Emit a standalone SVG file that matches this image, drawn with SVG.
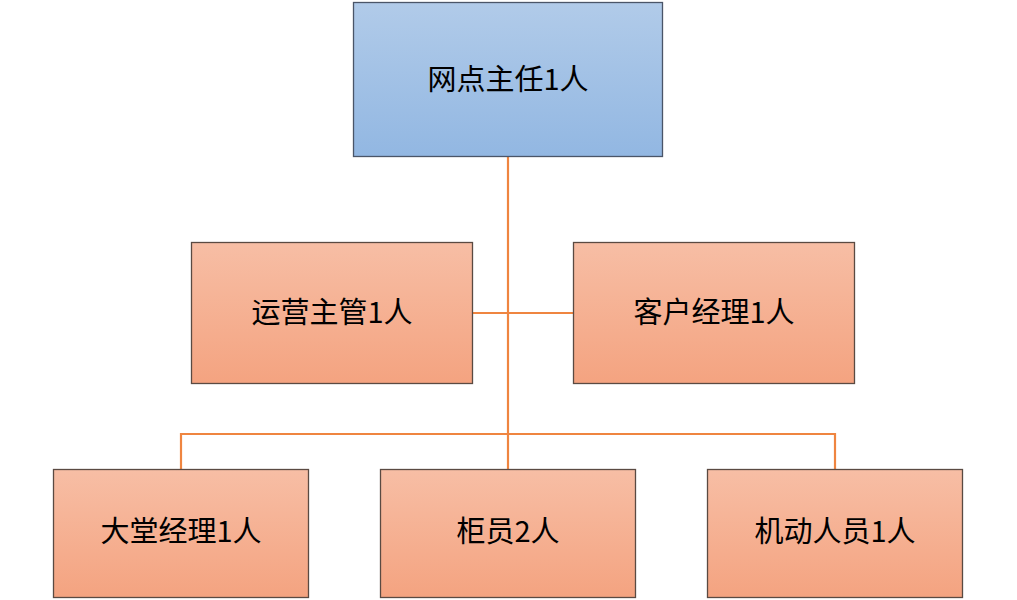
<svg xmlns="http://www.w3.org/2000/svg" width="1017" height="600" viewBox="0 0 1017 600">
<defs>
<linearGradient id="gb" x1="0" y1="0" x2="0" y2="1"><stop offset="0" stop-color="#b1cbe9"/><stop offset="1" stop-color="#92b7e2"/></linearGradient>
<linearGradient id="go" x1="0" y1="0" x2="0" y2="1"><stop offset="0" stop-color="#f7bea5"/><stop offset="1" stop-color="#f4a380"/></linearGradient>
<style>
.box{stroke:#5a4a42;stroke-width:1.3}
.blue{fill:url(#gb);stroke:#4a5568}
.orange{fill:url(#go)}
.t{font-family:"Noto Sans CJK SC","Microsoft YaHei",sans-serif;font-size:29px;fill:#000;text-anchor:middle;dominant-baseline:central}
.c{stroke:#ef8540;stroke-width:2.2;fill:none}
</style>
</defs>
<g id="connectors">
<path class="c" d="M508 156V469"/>
<path class="c" d="M472 313H573"/>
<path class="c" d="M181 469V434H835V469"/>
</g>
<g id="n1"><rect class="box blue" x="353.5" y="2.5" width="309" height="154"/><text class="t" x="508" y="77">网点主任1人</text></g>
<g id="n2"><rect class="box orange" x="191.5" y="242.5" width="281" height="141"/><text class="t" x="332" y="310">运营主管1人</text></g>
<g id="n3"><rect class="box orange" x="573.5" y="242.5" width="281" height="141"/><text class="t" x="714" y="310">客户经理1人</text></g>
<g id="n4"><rect class="box orange" x="53.5" y="469.5" width="255" height="128"/><text class="t" x="181" y="529">大堂经理1人</text></g>
<g id="n5"><rect class="box orange" x="380.5" y="469.5" width="255" height="128"/><text class="t" x="508" y="529">柜员2人</text></g>
<g id="n6"><rect class="box orange" x="707.5" y="469.5" width="255" height="128"/><text class="t" x="835" y="529">机动人员1人</text></g>
</svg>
